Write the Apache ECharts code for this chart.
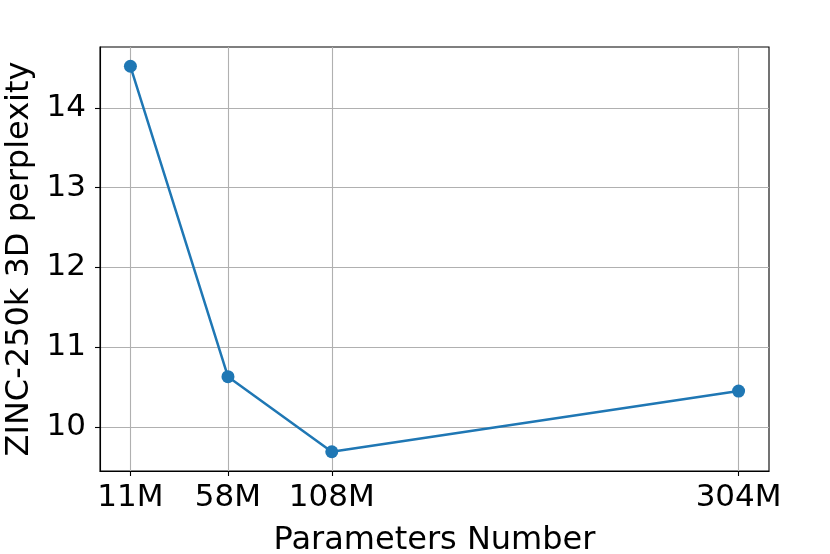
<!DOCTYPE html>
<html>
<head>
<meta charset="utf-8">
<script src="https://cdn.jsdelivr.net/npm/echarts@6/dist/echarts.min.js"></script>
<style>
  html, body { margin: 0; padding: 0; background: #fff; }
  #chart { width: 830px; height: 554px; }
</style>
</head>
<body>
<div id="chart"></div>
<script>
// model size (millions of parameters) vs perplexity
const paramsM = [11, 58, 108, 304]
const perplexity = [14.52, 10.63, 9.69, 10.45]
const xTickLabels = ['11M', '58M', '108M', '304M']
const yTicks = [10, 11, 12, 13, 14]

// matplotlib-style 5% margins around the data
const pad = (lo, hi) => [lo - (hi - lo) * 0.05, hi + (hi - lo) * 0.05]
const [xMin, xMax] = pad(Math.min(...paramsM), Math.max(...paramsM))
const [yMin, yMax] = pad(Math.min(...perplexity), Math.max(...perplexity))

const font = 'DejaVu Sans'
const chart = echarts.init(document.getElementById('chart'))

chart.setOption({
  animation: false,
  grid: {
    left: 100, right: 61, top: 47, bottom: 83,
    outerBoundsMode: 'none',
    containLabel: false,
    show: true,
    borderColor: '#000',
    borderWidth: 1.1
  },
  xAxis: {
    type: 'value',
    min: xMin,
    max: xMax,
    name: 'Parameters Number',
    nameLocation: 'middle',
    nameGap: 54,
    nameTextStyle: { fontFamily: font, fontSize: 32, color: '#000' },
    axisLine: { show: true, onZero: false, lineStyle: { color: '#000', width: 1.1 } },
    axisTick: { show: true, inside: false, length: 5, customValues: paramsM, lineStyle: { color: '#000', width: 1.1 } },
    axisLabel: {
      customValues: paramsM,
      formatter: v => xTickLabels[paramsM.indexOf(v)],
      margin: 11,
      fontFamily: font, fontSize: 31, color: '#000'
    },
    splitLine: { show: true, lineStyle: { color: '#b0b0b0', width: 1.1 } }
  },
  yAxis: {
    type: 'value',
    min: yMin,
    max: yMax,
    name: 'ZINC-250k 3D perplexity',
    nameLocation: 'middle',
    nameRotate: 90,
    nameGap: 62,
    nameTextStyle: { fontFamily: font, fontSize: 32, color: '#000' },
    axisLine: { show: true, onZero: false, lineStyle: { color: '#000', width: 1.1 } },
    axisTick: { show: true, inside: false, length: 5, customValues: yTicks, lineStyle: { color: '#000', width: 1.1 } },
    axisLabel: {
      customValues: yTicks,
      margin: 14,
      fontFamily: font, fontSize: 31, color: '#000'
    },
    splitLine: { show: true, lineStyle: { color: '#b0b0b0', width: 1.1 } }
  },
  series: [
    {
      type: 'line',
      data: paramsM.map((x, i) => [x, perplexity[i]]),
      symbol: 'circle',
      symbolSize: 13,
      showAllSymbol: true,
      lineStyle: { color: '#1f77b4', width: 2.5 },
      itemStyle: { color: '#1f77b4' }
    }
  ]
})
</script>
</body>
</html>
